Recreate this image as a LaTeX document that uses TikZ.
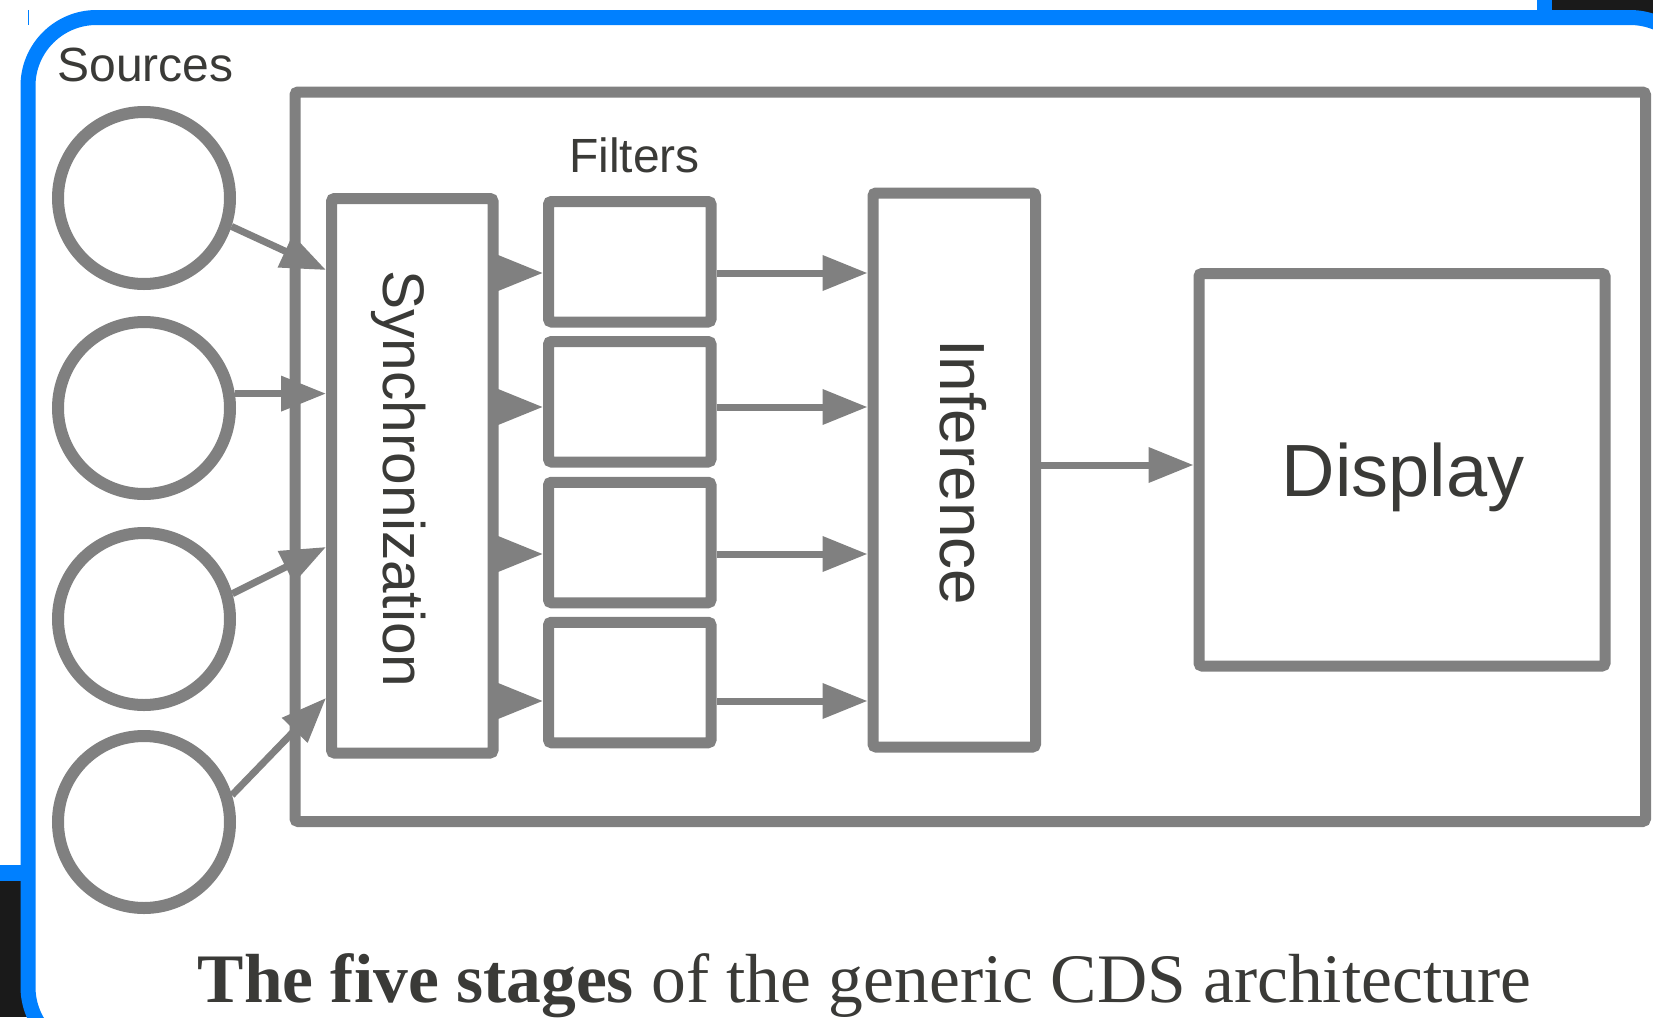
\documentclass[tikz,border=0pt]{standalone}
\usepackage{fontspec}
\setmainfont{Liberation Serif}
\newfontfamily\arialfont{Liberation Sans}
\usetikzlibrary{arrows.meta}
\definecolor{lgray}{RGB}{128,128,128}
\definecolor{txt}{RGB}{58,58,55}
\definecolor{fblue}{RGB}{0,128,255}
\definecolor{dark}{RGB}{26,26,26}
\begin{document}
\begin{tikzpicture}[x=1pt,y=-1pt,
  box/.style={draw=lgray, line width=11pt, rounded corners=3pt, fill=white, inner sep=0pt, outer sep=5.5pt},
  src/.style={circle, draw=lgray, line width=12pt, minimum size=172pt, inner sep=0pt, outer sep=6pt, fill=white},
  arr/.style={draw=lgray, line width=7pt, -{Triangle[length=45pt,width=34pt]}},
  lbl/.style={text=txt, inner sep=0pt, font=\arialfont\fontsize{48}{52}\selectfont}
]
\clip (0,0) rectangle (1653,1017);
\fill[white] (0,0) rectangle (1653,1017);
% window surroundings
\fill[dark] (1552,0) rectangle (1653,40);
\fill[fblue] (1537,0) rectangle (1552,12);
\fill[dark] (0,881) rectangle (40,1017);
\fill[fblue] (0,865) rectangle (22,881);
\draw[fblue, line width=15pt, rounded corners=68.5pt, fill=white] (28,17.5) rectangle (1698.5,1055.5);
\draw[fblue, line width=1.3pt] (28.3,10) -- (28.3,25);

% outer frame
\node[box, minimum width=1350.5pt, minimum height=729.5pt] (frame) at (970.25,456.75) {};

% sources
\node[src] (c1) at (144,198) {};
\node[src] (c2) at (144,408) {};
\node[src] (c3) at (144,619) {};
\node[src] (c4) at (144,822) {};

% stages
\node[box, minimum width=161.5pt, minimum height=554.5pt] (sync) at (412.25,475.75) {};
\node[box, minimum width=162.5pt, minimum height=120.5pt] (f1) at (629.75,261.75) {};
\node[box, minimum width=162.5pt, minimum height=120.5pt] (f2) at (629.75,401.75) {};
\node[box, minimum width=162.5pt, minimum height=120.5pt] (f3) at (629.75,542.5) {};
\node[box, minimum width=162.5pt, minimum height=120.5pt] (f4) at (629.75,682.5) {};
\node[box, minimum width=162.5pt, minimum height=554pt] (inf) at (954.25,470) {};
\node[box, minimum width=406pt, minimum height=392.5pt] (disp) at (1402,469.75) {};

% rows
\coordinate (t1) at (0,270);
\coordinate (t3) at (0,547);
\coordinate (t4) at (0,698);
\coordinate (r1) at (0,273);
\coordinate (r2) at (0,407);
\coordinate (r3) at (0,554);
\coordinate (r4) at (0,701);
\coordinate (rd) at (0,465);

% connectors
\draw[arr] (c1.-18) -- (sync.west |- t1);
\draw[arr] (c2.9.4) -- (c2.9.4 -| sync.west);
\draw[arr] (c3.16) -- (sync.west |- t3);
\draw[arr] (c4.17) -- (sync.west |- t4);
\foreach \i in {1,2,3,4}{
  \draw[arr] (sync.east |- r\i) -- (f\i.west |- r\i);
  \draw[arr] (f\i.east |- r\i) -- (inf.west |- r\i);
}
\draw[arr] (inf.east |- rd) -- (disp.west |- rd);

% texts
\node[lbl, anchor=base] (srclbl) at (145.5,81) {Sources};
\node[lbl, anchor=base] (fltlbl) at (634.5,172) {Filters};
\node[lbl, anchor=base, rotate=-90, font=\arialfont\fontsize{58.6}{60}\selectfont] (synclbl) at (383,479) {Synchronization};
\node[lbl, anchor=base, rotate=-90, font=\arialfont\fontsize{63.8}{66}\selectfont] (inflbl) at (940,472) {Inference};
\node[lbl, anchor=base, font=\arialfont\fontsize{74}{78}\selectfont] (displbl) at (1403,496) {Display};
\node[text=txt, inner sep=0pt, anchor=base, font=\fontsize{69.5}{80}\selectfont] (caption) at (864.5,1002) {\textbf{The five stages} of the generic CDS architecture};
\end{tikzpicture}
\end{document}
